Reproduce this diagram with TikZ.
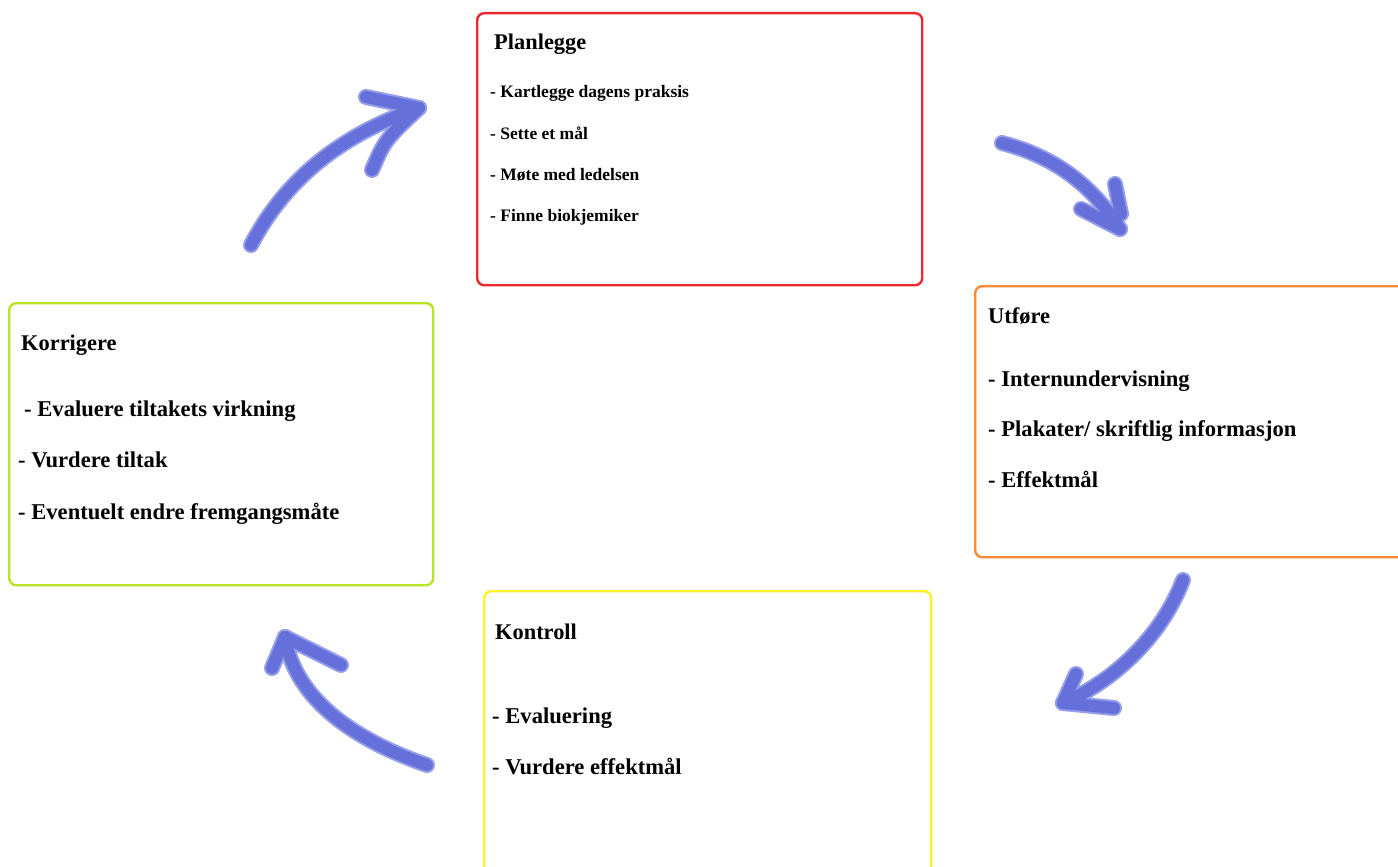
\documentclass[tikz,border=0pt]{standalone}
\usepackage{fontspec}
\setmainfont{Liberation Serif}
\definecolor{planred}{RGB}{236,40,44}
\definecolor{utforange}{RGB}{255,136,52}
\definecolor{korgreen}{RGB}{184,228,40}
\definecolor{konyellow}{RGB}{255,240,40}
\definecolor{brushcore}{RGB}{102,112,218}
\definecolor{brushhalo}{RGB}{150,158,232}
\tikzset{
  box/.style={rectangle, rounded corners=7pt, line width=2.4pt, fill=white, anchor=north west, inner sep=0pt},
  title/.style={anchor=base west, inner sep=0pt, font=\bfseries\fontsize{22.4}{26}\selectfont},
  item/.style={anchor=base west, inner sep=0pt, font=\bfseries\fontsize{22.6}{26}\selectfont},
  smallitem/.style={anchor=base west, inner sep=0pt, font=\bfseries\fontsize{17.5}{21}\selectfont},
  halo/.style={line cap=round, line join=round, draw=brushhalo, line width=16pt},
  core/.style={line cap=round, line join=round, draw=brushcore, line width=12pt},
}
\newcommand{\arrowpaths}[1]{%
  % Korrigere -> Planlegge
  \draw[#1] (a1s) .. controls (285,180) and (340,135) .. (a1e);
  \draw[#1] (366,97) -- (a1e);
  \draw[#1] (372,170) .. controls (385,140) .. (a1e);
  % Planlegge -> Utfore
  \draw[#1] (a2s) .. controls (1060,158) and (1095,190) .. (a2e);
  \draw[#1] (1115,184) -- (1121,214);
  \draw[#1] (1081,209) -- (a2e);
  % Utfore -> Kontroll
  \draw[#1] (a3s) .. controls (1160,640) and (1110,683) .. (a3e);
  \draw[#1] (1076,674) -- (a3e);
  \draw[#1] (1114,708) -- (a3e);
  % Kontroll -> Korrigere
  \draw[#1] (a4s) .. controls (360,742) and (295,702) .. (a4e);
  \draw[#1] (272,668) -- (a4e);
  \draw[#1] (341,665) -- (a4e);
}
\begin{document}
\begin{tikzpicture}[x=1pt,y=-1pt]
\useasboundingbox (0,0) rectangle (1398,867);
\clip (0,0) rectangle (1398,867);
\fill[white] (0,0) rectangle (1398,867);

% boxes
\node[box, draw=planred, minimum width=445pt, minimum height=272pt] (plan) at (476,12) {};
\node[box, draw=utforange, minimum width=460pt, minimum height=271pt] (utf) at (974,285) {};
\node[box, draw=korgreen, minimum width=424pt, minimum height=282pt] (kor) at (8,302) {};
\node[box, draw=konyellow, minimum width=447pt, minimum height=300pt] (kon) at (483,590) {};

% Planlegge
\node[title] (pt) at (494,50) {Planlegge};
\node[smallitem] (p1) at (490,98) {- Kartlegge dagens praksis};
\node[smallitem] (p2) at (490,139) {- Sette et mål};
\node[smallitem] (p3) at (490,180) {- Møte med ledelsen};
\node[smallitem] (p4) at (490,221) {- Finne biokjemiker};

% Utfore
\node[title] (ut) at (988,323) {Utføre};
\node[item] (u1) at (988,386) {- Internundervisning};
\node[item] (u2) at (988,436) {- Plakater/ skriftlig informasjon};
\node[item] (u3) at (988,487) {- Effektmål};

% Korrigere
\node[title] (kt) at (21,350) {Korrigere};
\node[item] (k1) at (24,416) {- Evaluere tiltakets virkning};
\node[item] (k2) at (18,467) {- Vurdere tiltak};
\node[item] (k3) at (18,519) {- Eventuelt endre fremgangsmåte};

% Kontroll
\node[title] (ct) at (495,639) {Kontroll};
\node[item] (c1) at (492,723) {- Evaluering};
\node[item] (c2) at (492,774) {- Vurdere effektmål};

% arrow end coordinates
\coordinate (a1s) at (251,245);
\coordinate (a1e) at (419,108);
\coordinate (a2s) at (1002,143);
\coordinate (a2e) at (1120,229);
\coordinate (a3s) at (1183,580);
\coordinate (a3e) at (1063,703);
\coordinate (a4s) at (427,765);
\coordinate (a4e) at (285,637);

% brush-like arrows: halos first, then cores
\arrowpaths{halo}
\arrowpaths{core}
\end{tikzpicture}
\end{document}
